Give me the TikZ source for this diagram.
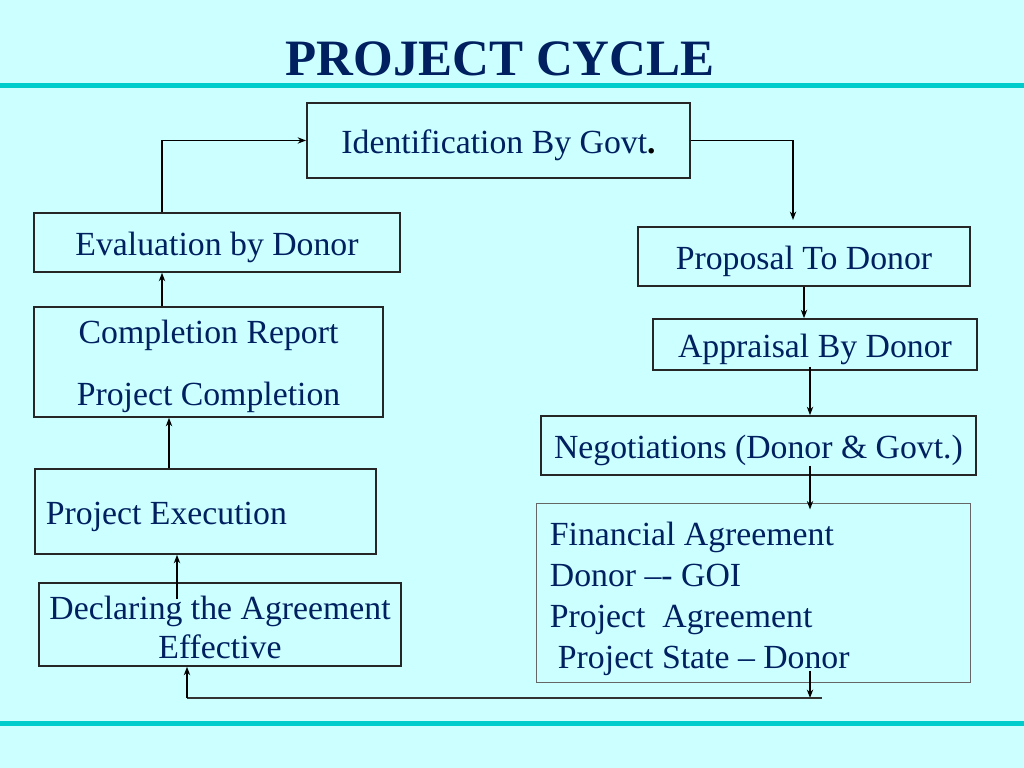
\documentclass[tikz,border=0pt]{standalone}
\usepackage{fontspec}
\setmainfont{Liberation Serif}
\usetikzlibrary{arrows.meta,calc}
\definecolor{bgcyan}{RGB}{204,255,255}
\definecolor{rulecyan}{RGB}{0,204,204}
\definecolor{ink}{RGB}{0,32,96}
\begin{document}
\begin{tikzpicture}[x=0.01cm,y=-0.01cm,
    box/.style={draw=black!85,line width=0.45pt,text=ink,inner sep=0pt,
        font=\fontsize{9.6}{11.3}\selectfont},
    oneline/.style={text height=7.6pt,text depth=0pt},
    arr/.style={-{Stealth[length=2.4pt,width=1.8pt]},line width=0.4pt}]
    \fill[bgcyan] (0,0) rectangle (1024,768);
    \fill[rulecyan] (0,83) rectangle (1024,88);
    \fill[rulecyan] (0,721) rectangle (1024,726);
    \node[text=ink,font=\bfseries\fontsize{14.5}{16}\selectfont] (title) at (500,59) {PROJECT CYCLE};
    \node[box,oneline,minimum width=3.83cm,minimum height=0.75cm] (ident) at (498.5,140.5)
        {Identification By Govt\textcolor{black}{\textbf{.}}};
    \node[box,oneline,minimum width=3.66cm,minimum height=0.59cm] (eval) at (217,242.5) {Evaluation by Donor};
    \node[box,minimum width=3.49cm,minimum height=1.10cm,align=flush center,
        font=\fontsize{9.6}{17.6}\selectfont] (compl) at (208.5,362)
        {\rule{0pt}{9.4pt}Completion Report\\Project Completion};
    \node[box,oneline,minimum width=3.41cm,minimum height=0.85cm,text width=3.19cm,align=flush left] (exec)
        at (205.5,511.5) {Project Execution};
    \node[box,minimum width=3.62cm,minimum height=0.83cm,align=flush center] (decl) at (220,624.5)
        {\rule{0pt}{8.3pt}Declaring the Agreement\\Effective};
    \node[box,oneline,minimum width=3.32cm,minimum height=0.59cm] (prop) at (804,256.5) {Proposal To Donor};
    \node[box,oneline,minimum width=3.24cm,minimum height=0.51cm] (appr) at (815,344.5) {Appraisal By Donor};
    \node[box,oneline,minimum width=4.35cm,minimum height=0.59cm] (negot) at (758.5,445.5)
        {Negotiations (Donor \& Govt.)};
    \node[box,draw=black!60,line width=0.3pt,minimum width=4.33cm,minimum height=1.78cm,
        text width=4.07cm,align=flush left,font=\fontsize{9.6}{11.6}\selectfont] (fin) at (753.5,593)
        {\rule{0pt}{10pt}Financial Agreement\\Donor –- GOI\\Project\ \ Agreement\\\hspace*{2.3pt}Project State – Donor};
    \coordinate (pin) at (793,220);
    \coordinate (pout) at (162,138);
    \coordinate (lb) at (169,0);
    \coordinate (lc) at (177,0);
    \coordinate (r) at (810,698);
    \coordinate (re) at (822,698);
    \coordinate (b) at (187,698);
    \draw[arr] (eval.north -| pout) |- (ident.west);
    \draw[arr] (ident.east) -| (pin);
    \draw[arr] (prop.south) -- (prop.south |- appr.north);
    \draw[arr] ($(appr.south -| r)+(0,-4)$) -- (negot.north -| r);
    \draw[arr] ($(negot.south -| r)+(0,-10)$) -- ($(fin.north -| r)+(0,6)$);
    \draw[arr] ($(fin.south -| r)+(0,-12)$) -- (r);
    \draw[line width=0.45pt,draw=black!80] (b) -- (re);
    \draw[arr] (b) -- (decl.south -| b);
    \draw[arr] ($(decl.north -| lc)+(0,17)$) -- (exec.south -| lc);
    \draw[arr] (exec.north -| lb) -- (compl.south -| lb);
    \draw[arr] (compl.north -| pout) -- (eval.south -| pout);
\end{tikzpicture}
\end{document}
